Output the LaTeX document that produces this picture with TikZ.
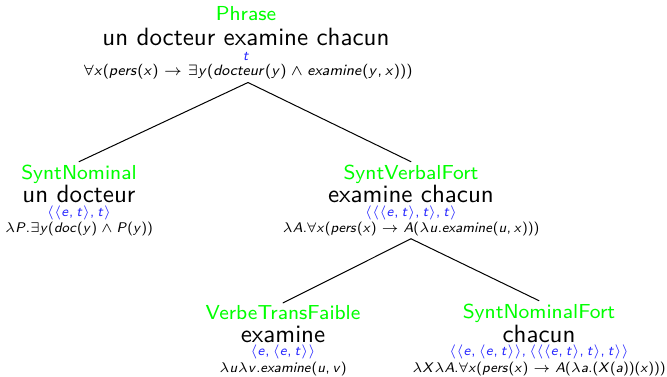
\documentclass[tikz,border=0pt]{standalone}
% sans serif letters in math, as on a slide
\DeclareSymbolFont{sfletters}{OT1}{cmss}{m}{sl}
\DeclareSymbolFont{sfupright}{OT1}{cmss}{m}{n}
\DeclareMathSymbol{(}{\mathopen}{sfupright}{"28}
\DeclareMathSymbol{)}{\mathclose}{sfupright}{"29}
\DeclareMathSymbol{.}{\mathord}{sfupright}{"2E}
\DeclareMathSymbol{,}{\mathpunct}{sfupright}{"2C}
\makeatletter
\count@=`a
\loop
  \mathcode\count@=\numexpr "7000+\symsfletters*"100+\count@\relax
  \advance\count@ by 1
\ifnum\count@<`\{ \repeat
\count@=`A
\loop
  \mathcode\count@=\numexpr "7000+\symsfletters*"100+\count@\relax
  \advance\count@ by 1
\ifnum\count@<`\[ \repeat
\makeatother
\definecolor{typblue}{RGB}{40,40,255}
\begin{document}
\begin{tikzpicture}[x=0.4pt,y=-0.4pt,line cap=round,line join=round,
  cat/.style={text=green,font=\sffamily\fontsize{8.1}{10}\selectfont,inner sep=1pt},
  words/.style={font=\sffamily\normalsize,inner sep=0pt},
  typ/.style={text=typblue,font=\sffamily\fontsize{6}{7}\selectfont,inner sep=0pt,scale=0.95,transform shape},
  sem/.style={font=\sffamily\fontsize{6}{7}\selectfont,inner sep=1pt,scale=0.93,transform shape}]
% derivation tree: category, words, type and meaning at each node

\useasboundingbox (0,0) rectangle (667,376);

% root
\node[cat] (phr) at (246,14) {Phrase};
\node[words] (phr-w) at (246,37) {un docteur examine chacun};
\node[typ] (phr-t) at (246,56) {$t$};
\node[sem,scale=1.075] (phr-s) at (248,72) {$\forall x(pers(x) \rightarrow \exists y(docteur(y) \wedge examine(y,x)))$};

% subject
\node[cat] (nom) at (79,174) {SyntNominal};
\node[words] (nom-w) at (79,194) {un docteur};
\node[typ] (nom-t) at (79,213) {$\langle\langle e,t\rangle,t\rangle$};
\node[sem] (nom-s) at (79,229) {$\lambda P.\exists y(doc(y) \wedge P(y))$};

% verb phrase
\node[cat] (vf) at (411,174) {SyntVerbalFort};
\node[words] (vf-w) at (411,194) {examine chacun};
\node[typ] (vf-t) at (411,213) {$\langle\langle\langle e,t\rangle,t\rangle,t\rangle$};
\node[sem] (vf-s) at (411,229) {$\lambda A.\forall x(pers(x) \rightarrow A(\lambda u.examine(u,x)))$};

% verb
\node[cat] (vt) at (283,313) {VerbeTransFaible};
\node[words] (vt-w) at (283,334) {examine};
\node[typ] (vt-t) at (283,352) {$\langle e,\langle e,t\rangle\rangle$};
\node[sem] (vt-s) at (283,369) {$\lambda u\lambda v.examine(u,v)$};

% object
\node[cat] (nf) at (539,313) {SyntNominalFort};
\node[words] (nf-w) at (539,334) {chacun};
\node[typ] (nf-t) at (539,352) {$\langle\langle e,\langle e,t\rangle\rangle,\langle\langle\langle e,t\rangle,t\rangle,t\rangle\rangle$};
\node[sem] (nf-s) at (539,369) {$\lambda X\lambda A.\forall x(pers(x) \rightarrow A(\lambda a.(X(a))(x)))$};

% branches
\draw (phr-s.south) -- (nom.north);
\draw (phr-s.south) -- (vf.north);
\draw (vf-s.south) -- (vt.north);
\draw (vf-s.south) -- (nf.north);

\end{tikzpicture}
\end{document}
